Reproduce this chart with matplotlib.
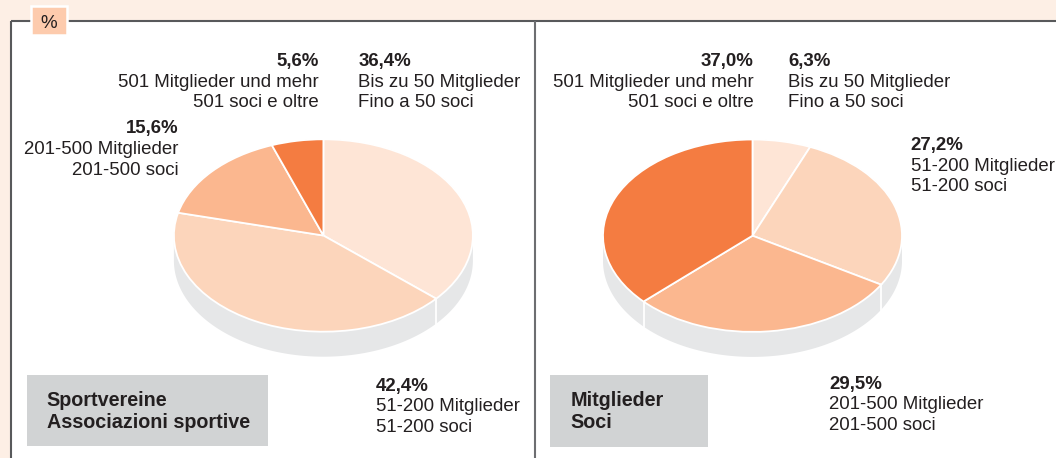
import numpy as np
import matplotlib
matplotlib.use("Agg")
import matplotlib.pyplot as plt
from matplotlib.patches import Rectangle, Polygon

plt.rcParams['font.family'] = ['Liberation Sans', 'DejaVu Sans']

# ---------------- data ----------------
categories_de = ["Bis zu 50 Mitglieder", "51-200 Mitglieder", "201-500 Mitglieder", "501 Mitglieder und mehr"]
categories_it = ["Fino a 50 soci", "51-200 soci", "201-500 soci", "501 soci e oltre"]
vereine_values = [36.4, 42.4, 15.6, 5.6]
mitglieder_values = [6.3, 27.2, 29.5, 37.0]
vereine_labels = ["36,4%", "42,4%", "15,6%", "5,6%"]
mitglieder_labels = ["6,3%", "27,2%", "29,5%", "37,0%"]
panel_titles = [("Sportvereine", "Associazioni sportive"), ("Mitglieder", "Soci")]
unit_label = "%"

slice_colors = ["#fee5d6", "#fcd5bb", "#fbb78f", "#f47c41"]
side_color = "#e6e7e8"
peach_bg = "#fdefe5"
line_col = "#58595b"
text_col = "#231f20"

W, H = 1056, 458
fig = plt.figure(figsize=(W / 100, H / 100), dpi=100)
fig.patch.set_facecolor("white")

bg = fig.add_axes([0, 0, 1, 1])
bg.set_xlim(0, W)
bg.set_ylim(H, 0)
bg.axis("off")
bg.set_zorder(0)

# frame
bg.add_patch(Rectangle((0, 0), W, 20.7, color=peach_bg, lw=0))
bg.add_patch(Rectangle((0, 0), 10.7, H, color=peach_bg, lw=0))
bg.plot([10.7, W], [20.7, 20.7], color=line_col, lw=1.5, solid_capstyle="butt")
bg.plot([10.7, 10.7], [20.7, H], color=line_col, lw=1.5, solid_capstyle="butt")
bg.plot([535, 535], [20.7, H], color="#6d6e71", lw=1.5, solid_capstyle="butt")
bg.add_patch(Rectangle((31, 5.5), 35.5, 29.5, facecolor="#fdcbad", edgecolor="white", lw=1.8, zorder=5))
bg.text(48.8, 28.5, unit_label, ha="center", va="baseline", fontsize=13.5, color=text_col, zorder=6)

# title boxes
boxes = [(27.3, 375, 241, 71), (550, 375, 158.3, 71.5)]
title_x = [46.7, 570.7]
for (bx, by, bw, bh), tx, (t1, t2) in zip(boxes, title_x, panel_titles):
    bg.add_patch(Rectangle((bx, by), bw, bh, color="#d1d3d4", lw=0))
    bg.text(tx, 406, t1, ha="left", va="baseline", fontsize=14.2, fontweight="bold", color=text_col)
    bg.text(tx, 428, t2, ha="left", va="baseline", fontsize=14.2, fontweight="bold", color=text_col)


def label(x, y0, pct, de, it, ha):
    bg.text(x, y0, pct, ha=ha, va="baseline", fontsize=13.4, fontweight="bold", color=text_col)
    bg.text(x, y0 + 20.7, de, ha=ha, va="baseline", fontsize=13.4, color=text_col)
    bg.text(x, y0 + 41.4, it, ha=ha, va="baseline", fontsize=13.4, color=text_col)


def pie3d(values, cx, cy, rx=149.5, ry=96.2, depth=25):
    d = depth / ry
    m = 1.05
    left = cx - m * rx
    top = cy - m * ry
    wpx = 2 * m * rx
    hpx = (2 * m + d) * ry
    ax = fig.add_axes([left / W, 1 - (top + hpx) / H, wpx / W, hpx / H])
    ax.set_zorder(2)
    ax.patch.set_alpha(0)
    # side
    t = np.linspace(np.pi, 2 * np.pi, 200)
    xs = np.concatenate([np.cos(t), np.cos(t[::-1])])
    ys = np.concatenate([np.sin(t) - d, np.sin(t[::-1])])
    ax.add_patch(Polygon(np.column_stack([xs, ys]), closed=True, facecolor=side_color, edgecolor="none", zorder=0))
    # top
    ax.pie(values, colors=slice_colors, startangle=90, counterclock=False, radius=1,
           wedgeprops=dict(edgecolor="white", linewidth=1.3), normalize=True)
    # white separators on the side
    cum = np.cumsum(values) / np.sum(values)
    for c in cum[:-1]:
        th = np.deg2rad(90 - 360 * c)
        if np.sin(th) < 0:
            ax.plot([np.cos(th), np.cos(th)], [np.sin(th), np.sin(th) - d], color="white", lw=1.3, zorder=1)
    ax.set_aspect("auto")
    ax.set_xlim(-m, m)
    ax.set_ylim(-m - d, m)
    ax.axis("off")
    return ax


pie3d(vereine_values, 323.4, 235.5)
pie3d(mitglieder_values, 752.5, 235.7)

# labels panel 1
label(318.5, 66, vereine_labels[3], categories_de[3], categories_it[3], "right")
label(358.3, 66, vereine_labels[0], categories_de[0], categories_it[0], "left")
label(178.5, 133.3, vereine_labels[2], categories_de[2], categories_it[2], "right")
label(375.5, 390.5, vereine_labels[1], categories_de[1], categories_it[1], "left")

# labels panel 2
label(753.3, 66, mitglieder_labels[3], categories_de[3], categories_it[3], "right")
label(788.3, 66, mitglieder_labels[0], categories_de[0], categories_it[0], "left")
label(910.7, 150, mitglieder_labels[1], categories_de[1], categories_it[1], "left")
label(829.3, 388.7, mitglieder_labels[2], categories_de[2], categories_it[2], "left")

fig.savefig("out.png", dpi=100, facecolor=fig.get_facecolor())
